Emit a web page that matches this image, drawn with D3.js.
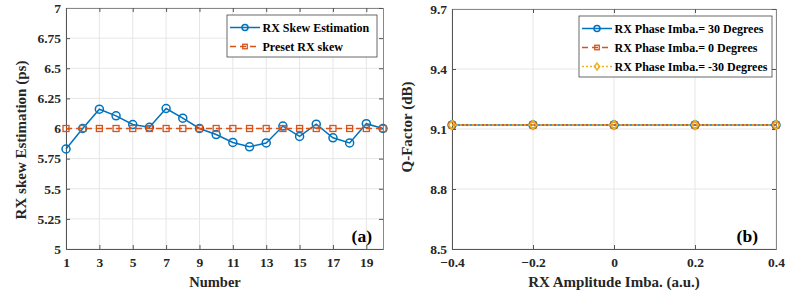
<!DOCTYPE html>
<html><head><meta charset="utf-8">
<script src="https://cdn.jsdelivr.net/npm/d3@7"></script>
<style>body{margin:0;background:#fff}</style>
</head><body>
<svg id="c" width="792" height="300"></svg>
<script>
// Panel (a)
const numbers = d3.range(1, 21);
const skewEstimation = [5.83, 6.0, 6.16, 6.105, 6.033, 6.01, 6.166, 6.086, 6.0, 5.95, 5.884, 5.848, 5.88, 6.02, 5.934, 6.036, 5.923, 5.88, 6.04, 6.0];
const presetSkew = [6,6,6,6,6,6,6,6,6,6,6,6,6,6,6,6,6,6,6,6];
const xTicksA = [1,3,5,7,9,11,13,15,17,19];
const yTicksA = [5, 5.25, 5.5, 5.75, 6, 6.25, 6.5, 6.75, 7];
const legendA = ["RX Skew Estimation", "Preset RX skew"];
// Panel (b)
const amplitudeImba = [-0.4, -0.2, 0, 0.2, 0.4];
const qPhase30 = [9.12, 9.12, 9.12, 9.12, 9.12];
const qPhase0 = [9.12, 9.12, 9.12, 9.12, 9.12];
const qPhaseM30 = [9.12, 9.12, 9.12, 9.12, 9.12];
const xTicksB = [-0.4, -0.2, 0, 0.2, 0.4];
const yTicksB = [8.5, 8.8, 9.1, 9.4, 9.7];
const legendB = ["RX Phase Imba.= 30 Degrees", "RX Phase Imba.= 0 Degrees", "RX Phase Imba.= -30 Degrees"];

const BLUE = "#0072BD", ORANGE = "#D95319", YELLOW = "#EDB120";
const svg = d3.select("#c");

function txt(sel, size) {
  return sel.attr("font-size", size).attr("font-weight", "bold").style("font-family", '"Liberation Serif"');
}

function marker(g, type, color, x, y, s) {
  if (type === "circle") g.append("circle").attr("cx", x).attr("cy", y).attr("r", s).attr("fill", "none").attr("stroke", color).attr("stroke-width", 1.5);
  else if (type === "square") g.append("rect").attr("x", x - s).attr("y", y - s).attr("width", 2*s).attr("height", 2*s).attr("fill", "none").attr("stroke", color).attr("stroke-width", 1.3);
  else g.append("path").attr("d", `M${x},${y-s*1.3}L${x+s},${y}L${x},${y+s*1.3}L${x-s},${y}Z`).attr("fill", "none").attr("stroke", color).attr("stroke-width", 1.5);
}

function panel(opt) {
  const g = svg.append("g");
  const x = d3.scaleLinear().domain(opt.xd).range([opt.l, opt.r]);
  const y = d3.scaleLinear().domain(opt.yd).range([opt.b, opt.t]);
  g.append("g").selectAll("line").data(opt.xt).join("line")
    .attr("x1", d => x(d)).attr("x2", d => x(d)).attr("y1", opt.t).attr("y2", opt.b)
    .attr("stroke", "#e6e6e6").attr("stroke-width", 1);
  g.append("g").selectAll("line").data(opt.yt).join("line")
    .attr("x1", opt.l).attr("x2", opt.r).attr("y1", d => y(d)).attr("y2", d => y(d))
    .attr("stroke", "#e6e6e6").attr("stroke-width", 1);
  const ax = g.append("g").attr("transform", `translate(0,${opt.b})`)
    .call(d3.axisBottom(x).tickValues(opt.xt).tickSize(-4).tickPadding(8).tickFormat(opt.xf || (d => d)));
  const ay = g.append("g").attr("transform", `translate(${opt.l},0)`)
    .call(d3.axisLeft(y).tickValues(opt.yt).tickSize(-4).tickPadding(5).tickFormat(d => d));
  const axT = g.append("g").attr("transform", `translate(0,${opt.t})`)
    .call(d3.axisTop(x).tickValues(opt.xt).tickSize(-4).tickFormat(""));
  const ayR = g.append("g").attr("transform", `translate(${opt.r},0)`)
    .call(d3.axisRight(y).tickValues(opt.yt).tickSize(-4).tickFormat(""));
  [ax, ay, axT, ayR].forEach(a => {
    a.attr("font-family", null).attr("font-size", null);
    a.select(".domain").attr("stroke", "#555").attr("stroke-width", 1);
    a.selectAll(".tick line").attr("stroke", "#555");
    txt(a.selectAll("text").attr("fill", "#262626"), 13.5);
  });
  [axT, ayR].forEach(a => a.select(".domain").attr("stroke", "#888"));
  opt.series.forEach(s => {
    const line = d3.line().x((d, i) => x(opt.xs[i])).y(d => y(d));
    g.append("path").datum(s.v).attr("d", line).attr("fill", "none")
      .attr("stroke", s.c).attr("stroke-width", s.w || 1.5).attr("stroke-dasharray", s.dash || null);
    s.v.forEach((d, i) => marker(g, s.m, s.c, x(opt.xs[i]), y(d), s.ms));
  });
  txt(g.append("text").attr("x", opt.xlx).attr("y", opt.b + 38).attr("text-anchor", "middle")
    .attr("fill", "#262626"), opt.xls).text(opt.xl);
  txt(g.append("text").attr("transform", `translate(${opt.ylx},${opt.yly}) rotate(-90)`)
    .attr("text-anchor", "middle").attr("fill", "#262626"), 15).text(opt.yl);
  txt(g.append("text").attr("x", opt.r - opt.tagOff).attr("y", opt.b - 7).attr("text-anchor", "end")
    .attr("fill", "#000"), 17.5).text(opt.tag);
  const lg = g.append("g");
  lg.append("rect").attr("x", opt.lg.x).attr("y", opt.lg.y).attr("width", opt.lg.w).attr("height", opt.lg.h)
    .attr("fill", "#fff").attr("stroke", "#444").attr("stroke-width", 0.8);
  opt.series.forEach((s, i) => {
    const yy = opt.lg.y + 12.5 + i * 19;
    const x0 = opt.lg.x + 3, x1 = opt.lg.x + 33;
    lg.append("line").attr("x1", x0).attr("x2", x1).attr("y1", yy).attr("y2", yy)
      .attr("stroke", s.c).attr("stroke-width", s.w || 1.5).attr("stroke-dasharray", s.dash || null);
    marker(lg, s.m, s.c, (x0 + x1) / 2, yy, s.ms * 0.75);
    txt(lg.append("text").attr("x", x1 + 2.5).attr("y", yy + 4.2).attr("fill", "#000"), 12).text(opt.names[i]);
  });
}

panel({
  l: 66, r: 383, t: 8, b: 249, xd: [1, 20], yd: [5, 7], xt: xTicksA, yt: yTicksA, xs: numbers,
  series: [
    {v: skewEstimation, c: BLUE, m: "circle", ms: 4},
    {v: presetSkew, c: ORANGE, m: "square", ms: 3, dash: "6,4"}
  ],
  names: legendA, xl: "Number", xlx: 215, xls: 14.5, yl: "RX skew Estimation (ps)", ylx: 26, yly: 140, tag: "(a)", tagOff: 11,
  lg: {x: 227, y: 15, w: 150, h: 42}
});
panel({
  l: 452, r: 776, t: 9, b: 249, xd: [-0.4, 0.4], yd: [8.5, 9.7], xt: xTicksB, yt: yTicksB, xs: amplitudeImba,
  series: [
    {v: qPhase30, c: BLUE, m: "circle", ms: 4},
    {v: qPhase0, c: ORANGE, m: "square", ms: 3, dash: "6,4"},
    {v: qPhaseM30, c: YELLOW, m: "diamond", ms: 3.5, dash: "2,2"}
  ],
  names: legendB, xl: "RX Amplitude Imba. (a.u.)", xlx: 614, xls: 15, yl: "Q-Factor (dB)", ylx: 412, yly: 127, tag: "(b)", tagOff: 18,
  xf: d => d === 0 ? "0" : d3.format(".1f")(d),
  lg: {x: 579, y: 16, w: 193, h: 61}
});
</script>
</body></html>
